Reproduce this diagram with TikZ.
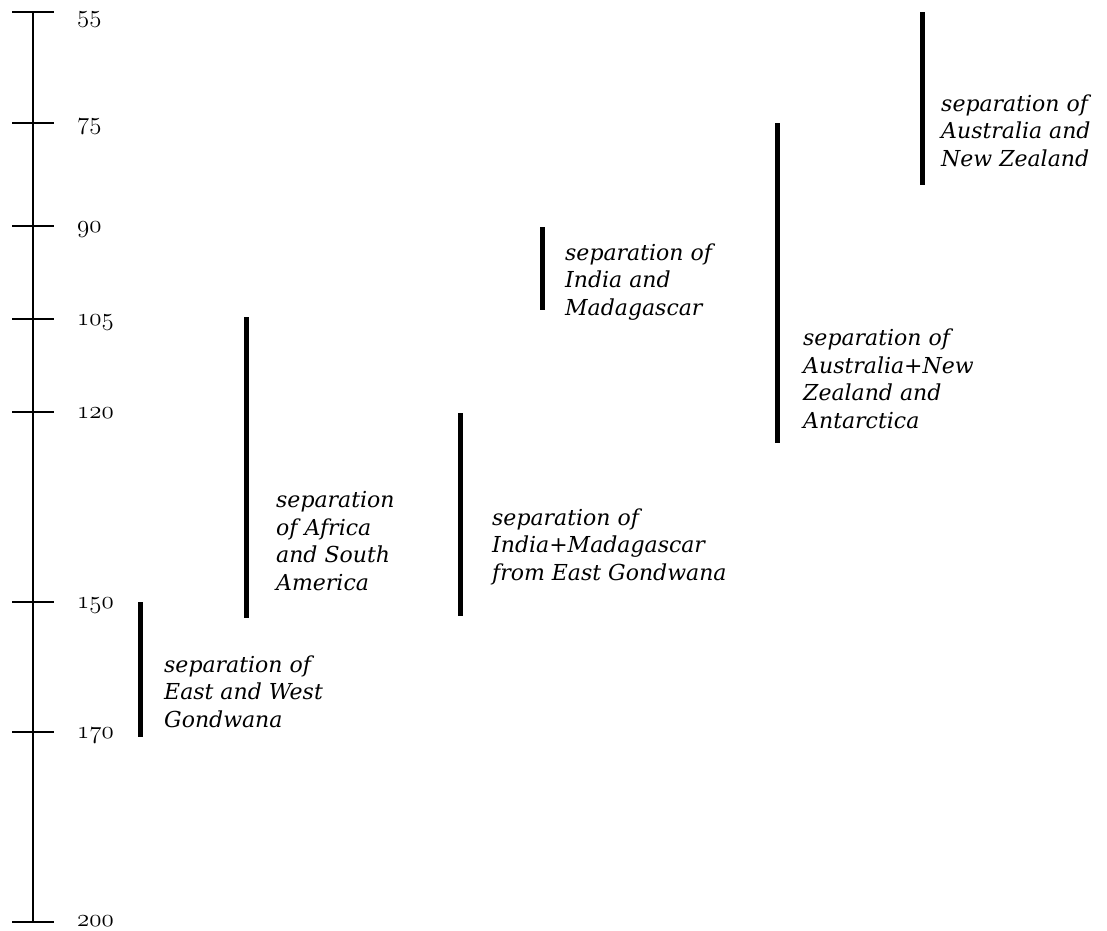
\documentclass[tikz,border=0pt]{standalone}
\usepackage{fontspec}
\setmainfont{DejaVu Serif}
\usetikzlibrary{positioning}
\newcommand{\agenum}[1]{{\usefont{OML}{lmm}{m}{it}\fontsize{27.5}{30}\selectfont #1}}

\begin{document}
\begin{tikzpicture}[x=1pt, y=-1pt,
  axis/.style={line width=2.8pt},
  tickmark/.style={line width=2.8pt},
  bar/.style={line width=5pt},
  num/.style={anchor=base west, inner sep=0pt},
  lbl/.style={anchor=base west, inner sep=0pt, align=left, font=\fontsize{22}{27.5}\selectfont\itshape}]
\useasboundingbox (0,0) rectangle (1107,930);
% time axis
\coordinate (t55) at (33,12); \coordinate (t75) at (33,123); \coordinate (t90) at (33,226);
\coordinate (t105) at (33,319); \coordinate (t120) at (33,412); \coordinate (t150) at (33,602);
\coordinate (t170) at (33,732); \coordinate (t200) at (33,922);
\draw[axis] (t55) -- (t200);
\draw[tickmark] ([xshift=-21pt]t55) -- ([xshift=21pt]t55); \draw[tickmark] ([xshift=-21pt]t75) -- ([xshift=21pt]t75);
\draw[tickmark] ([xshift=-21pt]t90) -- ([xshift=21pt]t90); \draw[tickmark] ([xshift=-21pt]t105) -- ([xshift=21pt]t105);
\draw[tickmark] ([xshift=-21pt]t120) -- ([xshift=21pt]t120); \draw[tickmark] ([xshift=-21pt]t150) -- ([xshift=21pt]t150);
\draw[tickmark] ([xshift=-21pt]t170) -- ([xshift=21pt]t170); \draw[tickmark] ([xshift=-21pt]t200) -- ([xshift=21pt]t200);
\node[num] (l55) at (77,22) {\agenum{55}}; \node[num] (l75) at (77,129) {\agenum{75}};
\node[num] (l90) at (77,232) {\agenum{90}}; \node[num] (l105) at (77,325) {\agenum{105}};
\node[num] (l120) at (77,418) {\agenum{120}}; \node[num] (l150) at (77,608) {\agenum{150}};
\node[num] (l170) at (77,738) {\agenum{170}}; \node[num] (l200) at (77,926) {\agenum{200}};
% separation events
\coordinate (ewTop) at (140,602); \coordinate (ewBot) at (140,737);
\coordinate (afsaTop) at (246.5,317); \coordinate (afsaBot) at (246.5,618);
\coordinate (imegTop) at (460.5,413); \coordinate (imegBot) at (460.5,616);
\coordinate (imaTop) at (542,227); \coordinate (imaBot) at (542,310);
\coordinate (ausantTop) at (777,123); \coordinate (ausantBot) at (777,443);
\coordinate (ausnzTop) at (922,12); \coordinate (ausnzBot) at (922,185);
\draw[bar] (ewTop) -- (ewBot); \draw[bar] (afsaTop) -- (afsaBot); \draw[bar] (imegTop) -- (imegBot);
\draw[bar] (imaTop) -- (imaBot); \draw[bar] (ausantTop) -- (ausantBot); \draw[bar] (ausnzTop) -- (ausnzBot);
% labels sit on the baseline of their last line
\node[lbl] (ew) at (164,727) {separation of\\ East and West\\ Gondwana};
\node[lbl] (afsa) at (276,590) {separation\\ of Africa\\ and South\\ America};
\node[lbl] (imeg) at (492,580) {separation of\\ India+Madagascar\\ from East Gondwana};
\node[lbl] (ima) at (565,315) {separation of\\ India and\\ Madagascar};
\node[lbl] (ausant) at (803,428) {separation of\\ Australia+New\\ Zealand and\\ Antarctica};
\node[lbl] (ausnz) at (941,166) {separation of\\ Australia and\\ New Zealand};
\end{tikzpicture}
\end{document}
